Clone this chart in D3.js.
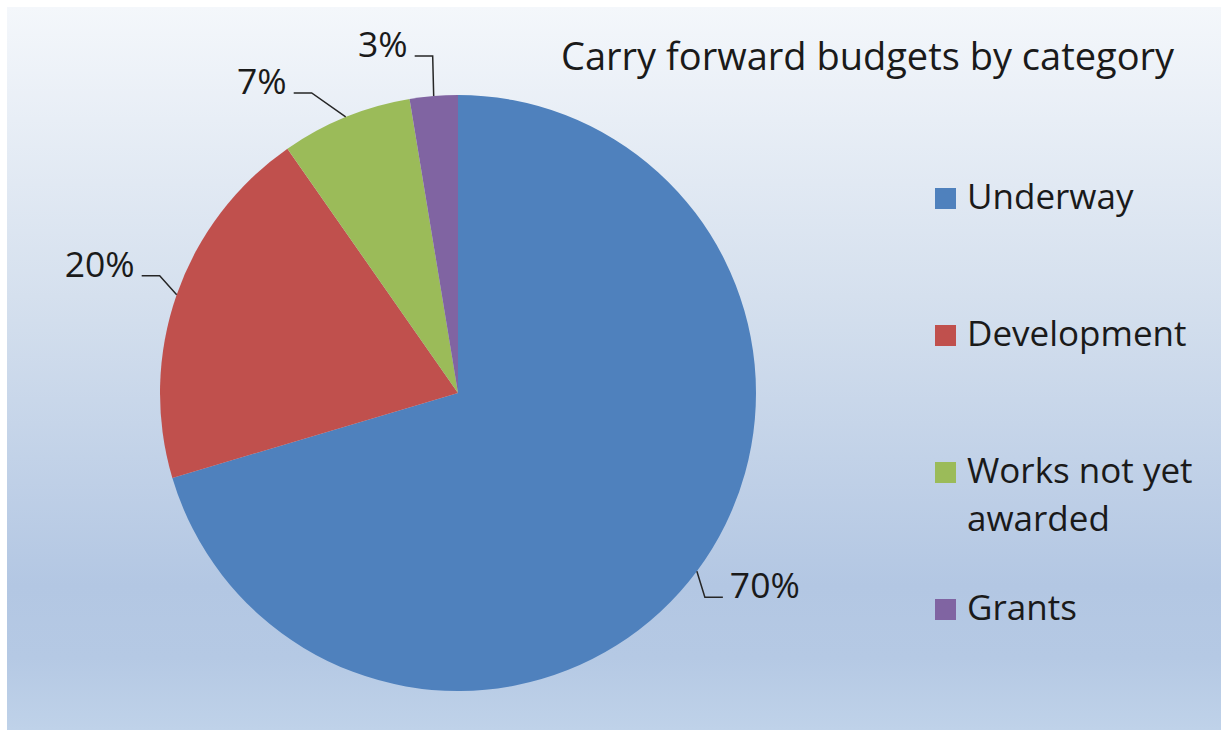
<!DOCTYPE html>
<html>
<head>
<meta charset="utf-8">
<script src="https://cdn.jsdelivr.net/npm/d3@7"></script>
<style>
  body { margin: 0; background: #ffffff; }
  svg { display: block; }
  text { font-family: "Open Sans", "Noto Sans", sans-serif; fill: #1a1a1a; }
</style>
</head>
<body>
<svg id="chart" width="1221" height="731"></svg>
<script>
// ---- data ----
const categories = ["Underway", "Development", "Works not yet awarded", "Grants"];
const shares = [70.4, 19.9, 7.1, 2.6];
const sliceColors = ["#4f81bd", "#c0504d", "#9bbb59", "#8064a2"];
const legendLines = [["Underway"], ["Development"], ["Works not yet", "awarded"], ["Grants"]];
const chartTitle = "Carry forward budgets by category";

// ---- layout ----
const W = 1221, H = 731;
const plot = { x: 7, y: 7, w: W - 7, h: H - 8 };
const center = { x: 458, y: 393 };
const radius = 298;
// leader line bend relative to the slice edge point: [dx, dy, side]
const leaderBends = [[8, 26, 1], [-17, -19, -1], [-34, -24, -1], [-1, -40, -1]];
const leaderRun = 18, labelGap = 7;

const svg = d3.select("#chart");

// background panel with vertical gradient
const defs = svg.append("defs");
const grad = defs.append("linearGradient")
  .attr("id", "panelFill").attr("x1", 0).attr("y1", 0).attr("x2", 0).attr("y2", 1);
[[0, "#f4f7fb"], [0.4, "#d5e0ee"], [0.8, "#b3c7e3"], [0.9, "#b5c9e4"], [1, "#bfd2e9"]]
  .forEach(([o, c]) => grad.append("stop").attr("offset", o).attr("stop-color", c));

svg.append("rect")
  .attr("x", plot.x).attr("y", plot.y).attr("width", plot.w).attr("height", plot.h)
  .attr("fill", "url(#panelFill)");

// pie
const total = d3.sum(shares);
const pie = d3.pie().sort(null).value(d => d).startAngle(0).endAngle(2 * Math.PI);
const arcs = pie(shares);
const arc = d3.arc().innerRadius(0).outerRadius(radius);
const color = d3.scaleOrdinal().domain(categories).range(sliceColors);
const pct = d3.format(".0%");

const g = svg.append("g").attr("transform", `translate(${center.x},${center.y})`);
g.selectAll("path.slice")
  .data(arcs)
  .join("path")
  .attr("class", "slice")
  .attr("d", arc)
  .attr("fill", (d, i) => color(categories[i]));

// data labels with leader lines
arcs.forEach((d, i) => {
  const mid = (d.startAngle + d.endAngle) / 2;
  const ax = radius * Math.sin(mid), ay = -radius * Math.cos(mid);
  const [bx, by, side] = leaderBends[i];
  const ex = ax + bx, ey = ay + by;
  const tx = ex + side * leaderRun;
  g.append("path")
    .attr("d", d3.line()([[ax, ay], [ex, ey], [tx, ey]]))
    .attr("fill", "none")
    .attr("stroke", "#262626")
    .attr("stroke-width", 1.5);
  g.append("text")
    .attr("x", tx + side * labelGap)
    .attr("y", ey + 1)
    .attr("text-anchor", side > 0 ? "start" : "end")
    .attr("font-size", 35.5)
    .text(pct(d.data / total));
});

// title
svg.append("text")
  .attr("x", 561).attr("y", 70)
  .attr("font-size", 38)
  .text(chartTitle);

// legend
const legend = svg.append("g").attr("transform", "translate(935,0)");
const rowBase = d3.scaleLinear().domain([0, 3]).range([209, 620]);
legendLines.forEach((lines, i) => {
  const y = rowBase(i);
  legend.append("rect")
    .attr("x", 0).attr("y", y - 21).attr("width", 21).attr("height", 21)
    .attr("fill", color(categories[i]));
  const t = legend.append("text").attr("x", 32).attr("y", y).attr("font-size", 35);
  lines.forEach((s, j) => t.append("tspan").attr("x", 32).attr("dy", j ? 48 : 0).text(s));
});
</script>
</body>
</html>
